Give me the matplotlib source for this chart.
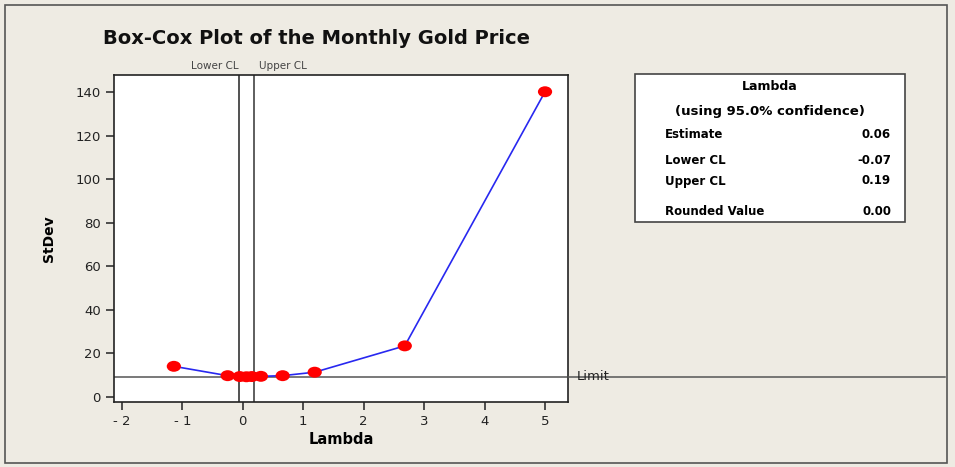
import matplotlib
matplotlib.use("Agg")
import matplotlib.pyplot as plt
from matplotlib.patches import Rectangle
from matplotlib.path import Path
from matplotlib.transforms import Affine2D

# Data
lambdas = [-1.14, -0.25, -0.05, 0.06, 0.15, 0.30, 0.66, 1.19, 2.68, 5.0]
stdevs = [14.1, 9.8, 9.4, 9.3, 9.4, 9.5, 9.8, 11.4, 23.5, 140.3]
lower_cl = -0.07
upper_cl = 0.19
limit = 9.3
xticks = [-2, -1, 0, 1, 2, 3, 4, 5]
yticks = [0, 20, 40, 60, 80, 100, 120, 140]
table_labels = ["Estimate", "Lower CL", "Upper CL", "Rounded Value"]
table_values = ["0.06", "-0.07", "0.19", "0.00"]

W, H = 955, 467
bg = "#EEEBE3"
fig = plt.figure(figsize=(W / 100, H / 100), dpi=100, facecolor=bg)
fig.patches.append(Rectangle((5 / W, 4 / H), 942 / W, 458 / H, transform=fig.transFigure,
                             fill=False, edgecolor="#555555", lw=1.2))

ax = fig.add_axes([114 / W, 1 - 402 / H, (568 - 114) / W, (402 - 75) / H])
ax.set_facecolor("white")
ellipse = Path.unit_circle().transformed(Affine2D().scale(1.3, 1.0))
ax.plot(lambdas, stdevs, color="#2828F0", lw=1.2, zorder=3)
ax.scatter(lambdas, stdevs, s=105, marker=ellipse, color="#FF0000", zorder=4, edgecolors="none")
ax.axvline(lower_cl, color="#222222", lw=1.1)
ax.axvline(upper_cl, color="#333333", lw=1.1)
ax.axhline(limit, color="#555555", lw=1.1)
ax.set_xlim(-2.13, 5.38)
ax.set_ylim(-2.3, 148)
ax.set_xticks(xticks)
ax.set_yticks(yticks)
ax.set_xticklabels([str(t).replace("-", "- ") for t in xticks])
ax.tick_params(direction="out", length=6, width=1.1, labelsize=9.5, colors="#222222")
for s in ax.spines.values():
    s.set_linewidth(1.2)
    s.set_color("#222222")
ax.set_xlabel("Lambda", fontsize=10.5, fontweight="bold", labelpad=3)
ax.set_ylabel("StDev", fontsize=10, fontweight="bold", labelpad=14)

# extend limit line beyond axes
fig.add_artist(plt.Line2D([568 / W, 945 / W], [1 - 376.5 / H, 1 - 376.5 / H],
                          color="#555555", lw=1.1, transform=fig.transFigure))
fig.text(577 / W, 1 - 376 / H, "Limit", fontsize=9.5, va="center", ha="left", color="#222222")

ax.text(lower_cl, 1.012, "Lower CL", transform=ax.get_xaxis_transform(), ha="right",
        va="bottom", fontsize=7.5, color="#444444")
ax.text(upper_cl + 0.08, 1.012, "Upper CL", transform=ax.get_xaxis_transform(), ha="left",
        va="bottom", fontsize=7.5, color="#444444")

fig.text(103 / W, 1 - 38 / H, "Box-Cox Plot of the Monthly Gold Price", fontsize=14,
         fontweight="bold", va="center", ha="left", color="#111111")

# Lambda table box
fig.patches.append(Rectangle((635 / W, 1 - 222 / H), (905 - 635) / W, (222 - 74) / H,
                             transform=fig.transFigure, facecolor="white",
                             edgecolor="#444444", lw=1.2))
fig.text(770 / W, 1 - 87 / H, "Lambda", fontsize=9, fontweight="bold", ha="center", va="center")
fig.text(770 / W, 1 - 111 / H, "(using 95.0% confidence)", fontsize=9.5, fontweight="bold",
         ha="center", va="center")
rows_y = [134, 161, 181, 211]
for lab, val, yy in zip(table_labels, table_values, rows_y):
    fig.text(665 / W, 1 - yy / H, lab, fontsize=8.5, fontweight="bold", ha="left", va="center")
    fig.text(891 / W, 1 - yy / H, val, fontsize=8.5, fontweight="bold", ha="right", va="center")

fig.savefig("out.png", dpi=100, facecolor=bg)
